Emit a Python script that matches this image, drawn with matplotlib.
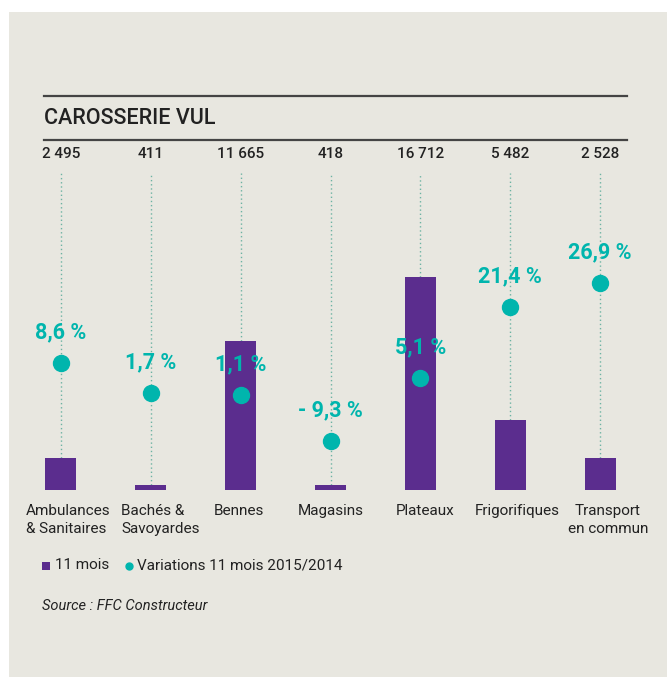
import matplotlib.pyplot as plt
from matplotlib.patches import Rectangle

categories = ['Ambulances\n& Sanitaires', 'Bachés &\nSavoyardes', 'Bennes', 'Magasins',
              'Plateaux', 'Frigorifiques', 'Transport\nen commun']
volumes = [2495, 411, 11665, 418, 16712, 5482, 2528]
volume_labels = ['2 495', '411', '11 665', '418', '16 712', '5 482', '2 528']
variations = [8.6, 1.7, 1.1, -9.3, 5.1, 21.4, 26.9]
variation_labels = ['8,6 %', '1,7 %', '1,1 %', '- 9,3 %', '5,1 %', '21,4 %', '26,9 %']

purple = '#5b2d8e'
teal = '#00b5ad'
bg = '#e8e7e0'
dark = '#222222'

W, H = 667, 677
plt.rcParams['font.family'] = ['Roboto', 'DejaVu Sans']

fig = plt.figure(figsize=(W / 100, H / 100), dpi=100)
fig.patch.set_facecolor('white')


def px(x, y):
    return x / W, 1 - y / H


fig.patches.append(Rectangle((9 / W, 0), 1, 1 - 12 / H, transform=fig.transFigure,
                             facecolor=bg, edgecolor='none', zorder=-5))

# rules + title
for yy in (96, 140):
    fig.add_artist(plt.Line2D([44 / W, 627 / W], [1 - yy / H] * 2, color='#444444', lw=1.6))
fig.text(*px(44, 119), 'CAROSSERIE VUL', fontsize=15.5, fontweight='medium', color=dark,
         va='center', ha='left')

left, right = px(16, 0)[0], px(645, 0)[0]
bottom, top = px(0, 490)[1], px(0, 173)[1]
ax = fig.add_axes([left, bottom, right - left, top - bottom])
ax.set_facecolor('none')
x = list(range(len(categories)))

ax.set_xlim(-0.5, 6.5)
ax.set_ylim(0, 24885)
ax.vlines(x, volumes, 24885, color='#6db3a3', lw=1.0, linestyles=(0, (1, 2)), zorder=1)
ax.bar(x, volumes, width=0.345, color=purple, zorder=2)
for s in ax.spines.values():
    s.set_visible(False)
ax.set_xticks([])
ax.set_yticks([])

ax2 = ax.twinx()
ax2.set_ylim(-20.6, 52.1)
ax2.axis('off')
ax2.plot(x, variations, 'o', color=teal, markersize=11.5, zorder=3)
for xi, v, lab in zip(x, variations, variation_labels):
    ax2.annotate(lab, (xi, v), xytext=(0, 22), textcoords='offset points',
                 ha='center', va='center', fontsize=15.5, fontweight='bold', color=teal)

# volume labels on top
for xi, lab in zip(x, volume_labels):
    ax.annotate(lab, (xi, 1), xycoords=('data', 'axes fraction'), xytext=(0, 14),
                textcoords='offset points', ha='center', va='center',
                fontsize=11, fontweight='medium', color=dark)

# category labels
cat_pos = [(26, 'left'), (121, 'left'), (239, 'center'), (331, 'center'),
           (425, 'center'), (517, 'center'), (608, 'center')]
for (cx, ha), lab in zip(cat_pos, categories):
    fig.text(*px(cx, 504), lab, fontsize=11, color=dark, ha=ha, va='top',
             linespacing=1.4, multialignment='left' if ha == 'left' else 'center')

# legend
fig.patches.append(Rectangle(px(42, 570), 8 / W, 8 / H, transform=fig.transFigure,
                             facecolor=purple, edgecolor='none'))
fig.text(*px(55, 565), '11 mois', fontsize=11, color=dark, va='center')
fig.add_artist(plt.Line2D([129 / W], [1 - 566 / H], marker='o', color=teal, markersize=5))
fig.text(*px(137, 565), 'Variations 11 mois 2015/2014', fontsize=11, color=dark, va='center')

fig.text(*px(42, 606), 'Source : FFC Constructeur', fontsize=10.5, style='italic',
         color=dark, va='center')

fig.savefig('out.png', dpi=100, facecolor=fig.get_facecolor())
